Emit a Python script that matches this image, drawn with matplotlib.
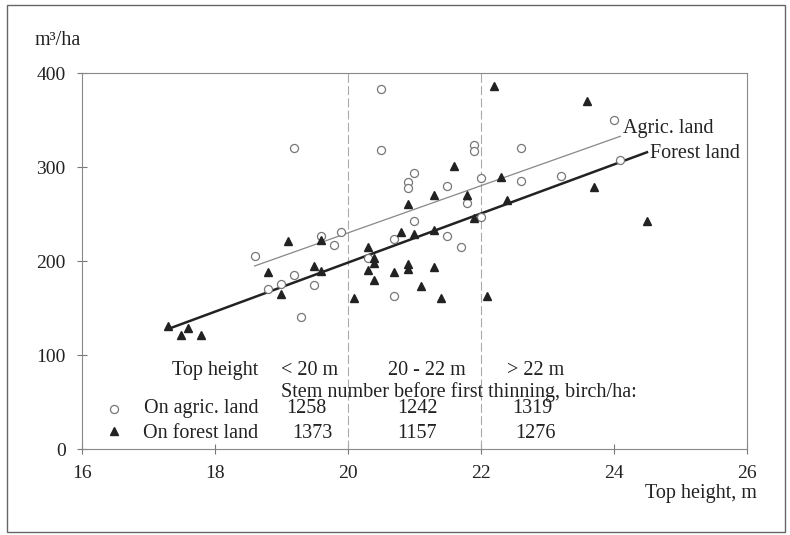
import matplotlib
matplotlib.use("Agg")
import matplotlib.pyplot as plt
from matplotlib.patches import Rectangle

# Stands on former agricultural land (open circles)
agric_h = [18.6, 18.8, 19.0, 19.2, 19.2, 19.3, 19.5, 19.6, 19.8, 19.9, 20.3,
           20.5, 20.5, 20.7, 20.7, 20.9, 20.9, 21.0, 21.0, 21.5, 21.5, 21.7,
           21.8, 21.9, 21.9, 22.0, 22.0, 22.6, 22.6, 23.2, 24.0, 24.1]
agric_v = [206, 170, 176, 185, 320, 141, 175, 227, 217, 231, 204,
           383, 318, 224, 163, 284, 278, 294, 243, 280, 227, 215,
           262, 324, 317, 289, 247, 321, 285, 291, 350, 308]

# Stands on forest land (filled triangles)
forest_h = [17.3, 17.5, 17.6, 17.8, 18.8, 19.0, 19.1, 19.5, 19.6, 19.6, 20.1,
            20.3, 20.4, 20.4, 20.3, 20.4, 20.7, 20.8, 20.9, 20.9, 20.9, 21.0,
            21.1, 21.3, 21.3, 21.3, 21.4, 21.6, 21.8, 21.9, 22.1, 22.2, 22.3,
            22.4, 23.6, 23.7, 24.5]
forest_v = [131, 122, 129, 122, 189, 165, 222, 195, 223, 190, 161,
            215, 203, 198, 191, 180, 189, 231, 261, 197, 192, 229,
            174, 270, 233, 194, 161, 301, 270, 246, 163, 387, 290,
            265, 371, 279, 243]

# regression lines (end points)
agric_line_h = [18.6, 24.1]
agric_line_v = [195, 333]
forest_line_h = [17.3, 24.5]
forest_line_v = [128, 316]

# table under the points
classes = ["< 20 m", "20 - 22 m", "> 22 m"]
stems_agric = ["1258", "1242", "1319"]
stems_forest = ["1373", "1157", "1276"]

serif = "Liberation Serif"
ink = "#222222"

fig = plt.figure(figsize=(7.9, 5.35), dpi=100)
fig.patches.append(Rectangle((0.009, 0.006), 0.985, 0.985, transform=fig.transFigure,
                             fill=False, edgecolor="#666666", linewidth=1.0))
ax = fig.add_axes([0.1034, 0.1602, 0.8418, 0.7028])

for xv in (20, 22):
    ax.plot([xv, xv], [0, 400], color="#aaaaaa", linewidth=0.8, linestyle=(0, (8, 3)))

ax.plot(agric_line_h, agric_line_v, color="#888888", linewidth=0.9)
ax.plot(forest_line_h, forest_line_v, color="#222222", linewidth=1.8)

ax.plot(agric_h, agric_v, "o", markersize=5.8, markerfacecolor="white",
        markeredgecolor="#777777", markeredgewidth=0.9)
ax.plot(forest_h, forest_v, "^", markersize=6.3, color="#222222")

ax.text(24.14, 341, "Agric. land", fontsize=14.5, family=serif, color=ink, va="center")
ax.text(24.55, 315, "Forest land", fontsize=14.5, family=serif, color=ink, va="center")

# table
ax.text(18.66, 84, "Top height", fontsize=14.5, family=serif, color=ink, ha="right", va="center")
for xv, lab in zip([19.0, 20.6, 22.39], classes):
    ax.text(xv, 84, lab, fontsize=14.5, family=serif, color=ink, va="center")
ax.text(19.0, 61, "Stem number before first thinning, birch/ha:", fontsize=14.5,
        family=serif, color=ink, va="center")
ax.text(18.66, 43, "On agric. land", fontsize=14.5, family=serif, color=ink, ha="right", va="center")
ax.text(18.66, 17, "On forest land", fontsize=14.5, family=serif, color=ink, ha="right", va="center")
ax.plot([16.48], [43], "o", markersize=5.8, markerfacecolor="white",
        markeredgecolor="#777777", markeredgewidth=0.9)
ax.plot([16.49], [19], "^", markersize=6.3, color="#222222")
for xv, lab in zip([19.08, 20.74, 22.47], stems_agric):
    ax.text(xv, 43, lab, fontsize=14.5, family=serif, color=ink, va="center")
for xv, lab in zip([19.16, 20.74, 22.52], stems_forest):
    ax.text(xv, 17, lab, fontsize=14.5, family=serif, color=ink, va="center")

ax.set_xlim(16, 26)
ax.set_ylim(0, 400)
ax.set_xticks([16, 18, 20, 22, 24, 26])
ax.set_yticks([0, 100, 200, 300, 400])
ax.tick_params(direction="inout", length=7, width=0.8, color="#777777",
               labelsize=14, labelcolor=ink, pad=8)
for lab in ax.get_xticklabels() + ax.get_yticklabels():
    lab.set_family(serif)
for sp in ax.spines.values():
    sp.set_color("#888888")
    sp.set_linewidth(0.8)

fig.text(0.044, 0.925, "m³/ha", fontsize=14.5, family=serif, color=ink, va="center")
fig.text(0.958, 0.078, "Top height, m", fontsize=14.5, family=serif, color=ink,
         ha="right", va="center")

fig.savefig("out.png", dpi=100)
